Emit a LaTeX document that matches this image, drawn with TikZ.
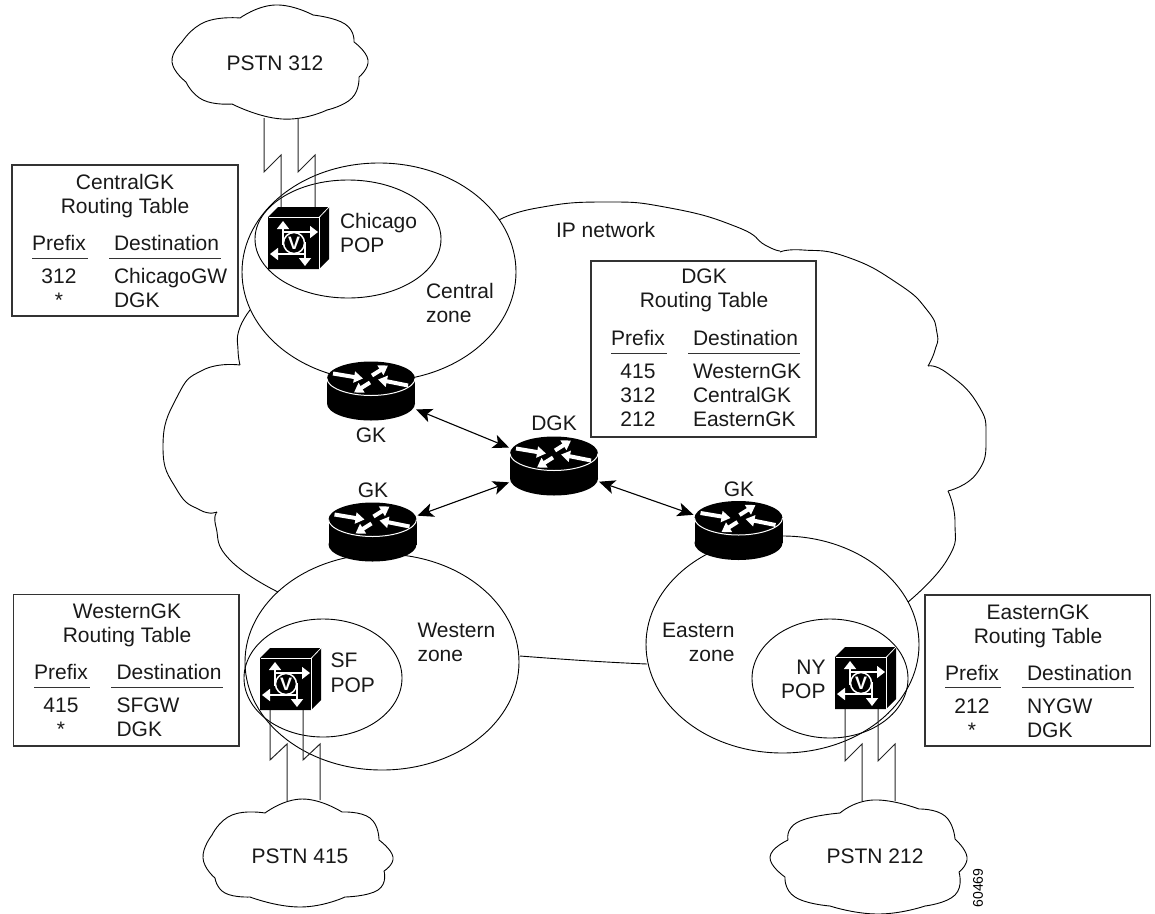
\documentclass[tikz,border=0pt]{standalone}
\usepackage{fontspec}
\setmainfont{Liberation Sans}
\usetikzlibrary{arrows.meta}
\tikzset{
 lbl/.style={inner sep=0pt,outer sep=0pt,font=\fontsize{21}{24}\selectfont,text=black!90},
 tbox/.style={draw=black!80,line width=1.1pt},
 trule/.style={draw=black!80,line width=1pt},
 thin1/.style={line width=0.9pt,draw=black},
 lnk/.style={line width=1pt,draw=black!85},
 biarrow/.style={line width=1.1pt,{Stealth[length=16pt,width=14pt,inset=4pt]}-{Stealth[length=16pt,width=14pt,inset=4pt]}},
 routerbox/.style={minimum width=90pt,minimum height=50pt,inner sep=0pt,outer sep=0pt},
 rar/.style={white,line width=4pt,-{Triangle[length=9pt,width=11pt]}},
 gar/.style={white,line width=1.5pt,-{Triangle[length=8pt,width=12pt]}}
}
\newcommand{\seg}[1]{\draw[thin1] plot[smooth,tension=0.9] coordinates {#1};}
\newcommand{\rtr}[3]{%
\begin{scope}[shift={(#2,#3)}]
\fill[black] (0,25) ellipse [x radius=44pt,y radius=17pt];
\fill[black] (-44,0) rectangle (44,25);
\fill[black] (0,0) ellipse [x radius=44pt,y radius=17pt];
\draw[white,line width=1pt] (-44,0) .. controls (-44,9) and (-24,17) .. (0,17) .. controls (24,17) and (44,9) .. (44,0);
\draw[rar] (-38,-5) -- (-8,0);
\draw[rar] (1,-3) -- (17,-13);
\draw[rar] (-1,4) -- (-17,14);
\draw[rar] (37,7) -- (7,1);
\node[routerbox] (#1) at (0,12.5) {};
\end{scope}}
\newcommand{\gw}[3]{%
\begin{scope}[shift={(#2,#3)}]
\fill[black] (0,0) -- (10,-10) -- (61,-10) -- (61,42) -- (51,52) -- (0,52) -- cycle;
\draw[white,line width=0.8pt] (0.5,0.5) -- (51,0.5) -- (51,52);
\draw[white,line width=0.8pt] (51,0.5) -- (61,-10);
\draw[gar] (15,28) -- (15,4);
\draw[gar] (14.3,15) -- (50,15);
\draw[gar] (37.7,37) -- (2,37);
\draw[gar] (37,25) -- (37,49);
\draw[white,line width=1.5pt,fill=black] (26,26) circle [radius=10.5pt];
\node[inner sep=0pt,font=\fontsize{18}{18}\selectfont\bfseries,text=white] (#1) at (26,26) {V};
\end{scope}}
\begin{document}
\begin{tikzpicture}[x=1pt,y=-1pt]
\useasboundingbox (0,0) rectangle (1155,913);
% IP network cloud
\seg{(499,220)(537,208)(603,202)(670,208)(737,227)(765,245)(780,251)}
\seg{(780,252)(803,250)(847,257)(897,283)(927,310)(937,333)(935,350)(928,366)}
\seg{(928,366)(947,373)(977,403)(986,437)(977,473)(948,491)}
\seg{(948,491)(955,523)(947,560)(908,602)}
\seg{(520,656)(590,661)(647,664)}
\seg{(250,310)(239,330)(238,350)(240,365)}
\seg{(240,365)(203,370)(177,397)(163,447)(177,490)(200,510)(217,512)}
\seg{(217,512)(216,527)(230,560)(278,592)}
% zones
\draw[thin1] (379,272) ellipse [x radius=137pt,y radius=109pt];
\draw[thin1] (348,239) ellipse [x radius=93pt,y radius=59pt];
\draw[thin1] (382,662) ellipse [x radius=137pt,y radius=108pt];
\draw[thin1] (323,678) ellipse [x radius=79pt,y radius=59pt];
\draw[thin1] (782.5,644.5) ellipse [x radius=136.5pt,y radius=108.5pt];
\draw[thin1] (830,678.5) ellipse [x radius=78pt,y radius=59.5pt];
% PSTN clouds
\seg{(240,18)(275,5)(313,15)}
\seg{(313,15)(345,24)(354,42)}
\seg{(354,42)(368,60)(359,77)}
\seg{(359,77)(352,98)(327,110)}
\seg{(327,110)(282,119)(232,104)}
\seg{(232,104)(203,100)(186,82)}
\seg{(186,82)(172,62)(182,42)}
\seg{(182,42)(205,22)(240,18)}
\seg{(265,813)(302,799)(342,812)}
\seg{(342,812)(370,818)(379,840)}
\seg{(379,840)(393,857)(384,871)}
\seg{(384,871)(378,890)(345,897)}
\seg{(345,897)(300,907)(250,897)}
\seg{(250,897)(225,893)(215,878)}
\seg{(215,878)(203,858)(212,835)}
\seg{(212,835)(232,815)(265,813)}
\seg{(840,813)(873,800)(919,809)}
\seg{(919,809)(945,816)(955,839)}
\seg{(955,839)(967,857)(959,872)}
\seg{(959,872)(955,895)(925,906)}
\seg{(925,906)(878,914)(830,906)}
\seg{(830,906)(795,897)(785,877)}
\seg{(785,877)(770,857)(788,840)}
\seg{(788,840)(798,822)(840,813)}
\node[lbl,anchor=base] (p312) at (275,70) {PSTN 312};
\node[lbl,anchor=base] (p415) at (300,863) {PSTN 415};
\node[lbl,anchor=base] (p212) at (875,863) {PSTN 212};
% link ends
\coordinate (ca) at (264,118); \coordinate (cb) at (298,118);
\coordinate (cc) at (281,210); \coordinate (cd) at (315,208);
\coordinate (sa) at (270,709); \coordinate (sb) at (303,709);
\coordinate (sc) at (287,801); \coordinate (sd) at (320,800);
\coordinate (na) at (845,709); \coordinate (nb) at (878,709);
\coordinate (nc) at (862,801); \coordinate (nd) at (895,801);
\draw[lnk] (ca) -- ++(0,54) -- ++(17,-17) -- (cc);
\draw[lnk] (cb) -- ++(0,54) -- ++(17,-17) -- (cd);
\draw[lnk] (sa) -- ++(0,51) -- ++(17,-16) -- (sc);
\draw[lnk] (sb) -- ++(0,51) -- ++(17,-16) -- (sd);
\draw[lnk] (na) -- ++(0,52) -- ++(17,-17) -- (nc);
\draw[lnk] (nb) -- ++(0,52) -- ++(17,-17) -- (nd);
% devices
\gw{vchi}{268}{217}
\gw{vsf}{260}{658}
\gw{vny}{835}{657}
\rtr{gkc}{371}{378.5}
\rtr{gkw}{372.5}{519.5}
\rtr{dgk}{554}{453.5}
\rtr{gke}{738.5}{518}
\draw[biarrow] (gkc) -- (dgk);
\draw[biarrow] (gkw) -- (dgk);
\draw[biarrow] (dgk) -- (gke);
\node[lbl,anchor=base] (lgkc) at (371,442) {GK};
\node[lbl,anchor=base] (lgkw) at (373,497) {GK};
\node[lbl,anchor=base] (ldgk) at (554,430) {DGK};
\node[lbl,anchor=base] (lgke) at (739,496) {GK};
% labels
\node[lbl,anchor=base west] (ip) at (556,237) {IP network};
\node[lbl,anchor=base west] (chi1) at (340,228) {Chicago};
\node[lbl,anchor=base west] (chi2) at (340,252) {POP};
\node[lbl,anchor=base west] (cz1) at (426,298) {Central};
\node[lbl,anchor=base west] (cz2) at (426,322) {zone};
\node[lbl,anchor=base west] (wz1) at (417.5,637) {Western};
\node[lbl,anchor=base west] (wz2) at (417.5,661) {zone};
\node[lbl,anchor=base west] (sf1) at (330.5,667) {SF};
\node[lbl,anchor=base west] (sf2) at (330.5,692) {POP};
\node[lbl,anchor=base east] (ez1) at (734.5,637) {Eastern};
\node[lbl,anchor=base east] (ez2) at (734.5,661) {zone};
\node[lbl,anchor=base east] (ny1) at (825.5,674) {NY};
\node[lbl,anchor=base east] (ny2) at (825.5,698) {POP};
% Central table
\draw[tbox] (12,165) rectangle (238,316);
\node[lbl,anchor=base] (t1a) at (125,189) {CentralGK};
\node[lbl,anchor=base] (t1b) at (125,213) {Routing Table};
\node[lbl,anchor=base] (t1c) at (59,250) {Prefix};
\node[lbl,anchor=base west] (t1d) at (114,250) {Destination};
\draw[trule] (32,258) -- (88,258); \draw[trule] (109,258) -- (221,258);
\node[lbl,anchor=base] (t1e) at (59,283) {312};
\node[lbl,anchor=base] (t1f) at (59,307) {*};
\node[lbl,anchor=base west] (t1g) at (114,283) {ChicagoGW};
\node[lbl,anchor=base west] (t1h) at (114,307) {DGK};
% Western table
\draw[tbox] (13.5,594.5) rectangle (239,746);
\node[lbl,anchor=base] (t2a) at (127,618) {WesternGK};
\node[lbl,anchor=base] (t2b) at (127,642) {Routing Table};
\node[lbl,anchor=base] (t2c) at (61,679) {Prefix};
\node[lbl,anchor=base west] (t2d) at (116.5,679) {Destination};
\draw[trule] (34,687) -- (90,687); \draw[trule] (111,687) -- (223,687);
\node[lbl,anchor=base] (t2e) at (61,712) {415};
\node[lbl,anchor=base] (t2f) at (61,736) {*};
\node[lbl,anchor=base west] (t2g) at (116.5,712) {SFGW};
\node[lbl,anchor=base west] (t2h) at (116.5,736) {DGK};
% Eastern table
\draw[tbox] (925,595) rectangle (1150.5,746);
\node[lbl,anchor=base] (t3a) at (1038,619) {EasternGK};
\node[lbl,anchor=base] (t3b) at (1038,643) {Routing Table};
\node[lbl,anchor=base] (t3c) at (972,680) {Prefix};
\node[lbl,anchor=base west] (t3d) at (1027,680) {Destination};
\draw[trule] (945,687) -- (1001,687); \draw[trule] (1022,687) -- (1134,687);
\node[lbl,anchor=base] (t3e) at (972,713) {212};
\node[lbl,anchor=base] (t3f) at (972,737) {*};
\node[lbl,anchor=base west] (t3g) at (1027,713) {NYGW};
\node[lbl,anchor=base west] (t3h) at (1027,737) {DGK};
% DGK table
\draw[tbox] (591,261) rectangle (816,437);
\node[lbl,anchor=base] (t4a) at (704,283) {DGK};
\node[lbl,anchor=base] (t4b) at (704,307) {Routing Table};
\node[lbl,anchor=base] (t4c) at (638,345) {Prefix};
\node[lbl,anchor=base west] (t4d) at (693,345) {Destination};
\draw[trule] (611,353) -- (667,353); \draw[trule] (688,353) -- (800,353);
\node[lbl,anchor=base] (t4e) at (638,378) {415};
\node[lbl,anchor=base] (t4f) at (638,402) {312};
\node[lbl,anchor=base] (t4g) at (638,426) {212};
\node[lbl,anchor=base west] (t4h) at (693,378) {WesternGK};
\node[lbl,anchor=base west] (t4i) at (693,402) {CentralGK};
\node[lbl,anchor=base west] (t4j) at (693,426) {EasternGK};
\node[inner sep=0pt,font=\fontsize{14}{14}\selectfont,rotate=90] (fig) at (978,888) {60469};
\end{tikzpicture}
\end{document}
